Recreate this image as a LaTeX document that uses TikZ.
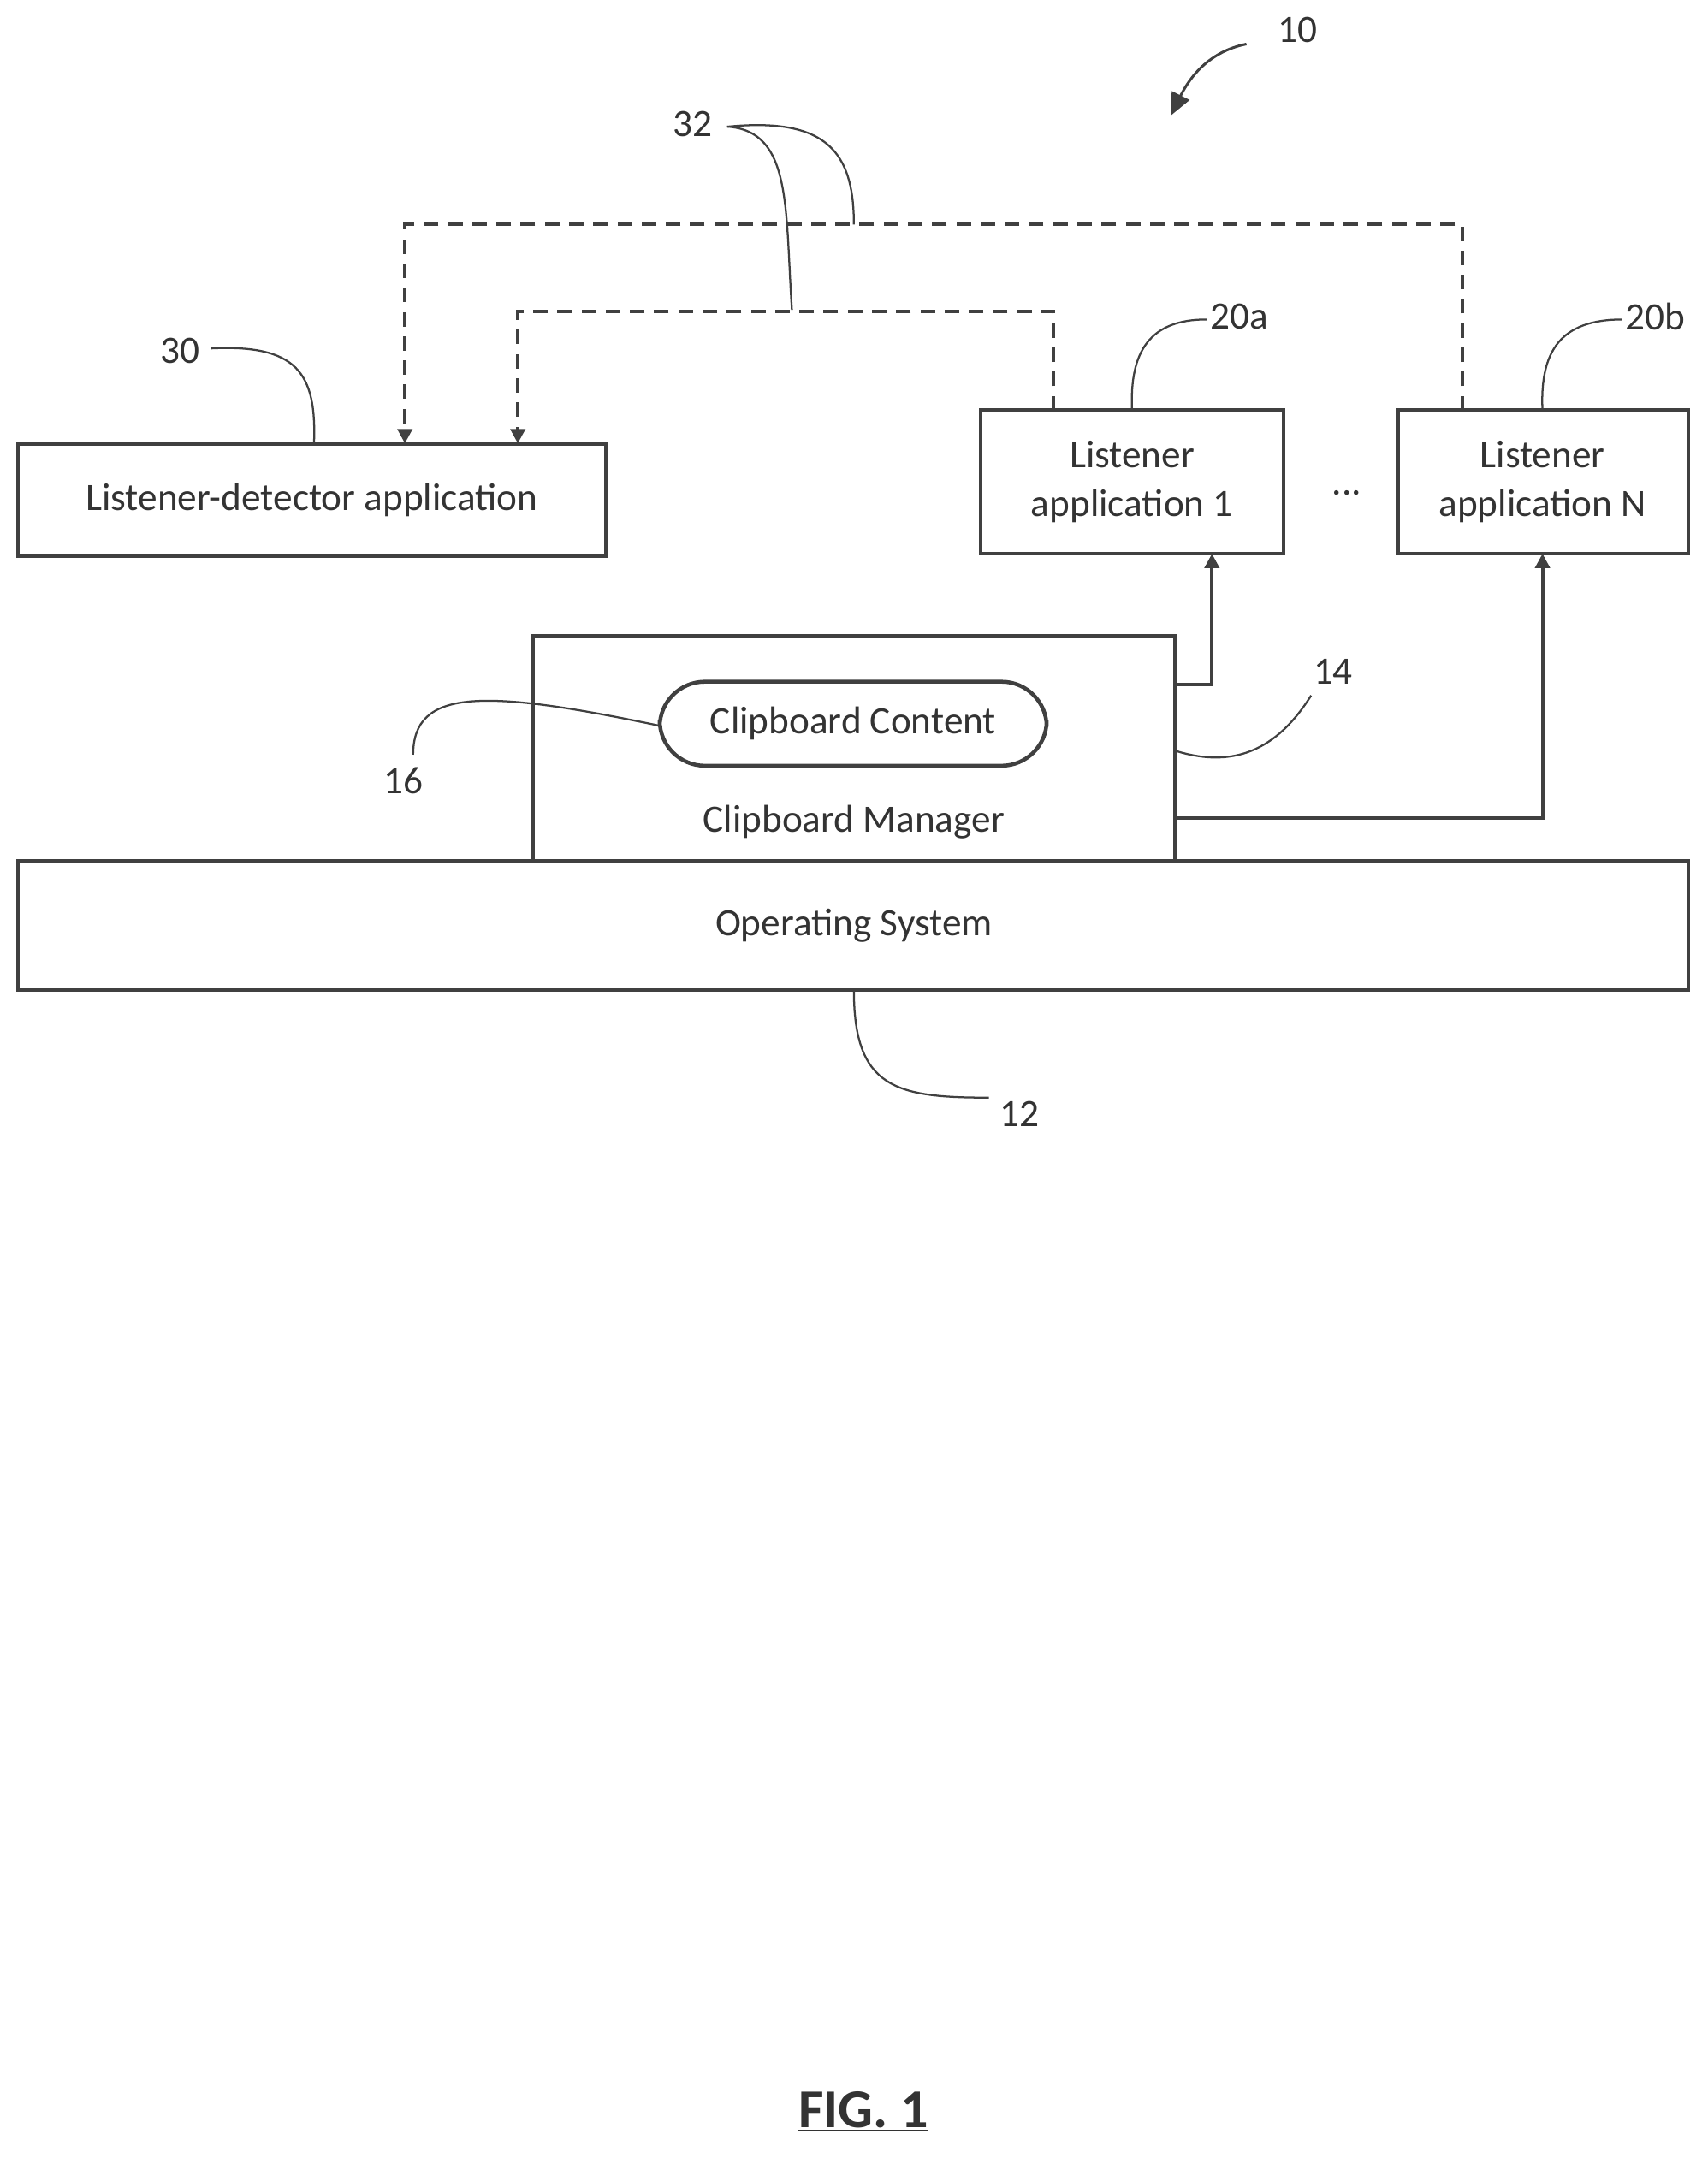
\documentclass[tikz,border=0pt]{standalone}
\usepackage{fontspec}
\setmainfont{Carlito}
\usetikzlibrary{arrows.meta}
\begin{document}
\begin{tikzpicture}[x=0.03cm,y=-0.03cm,
  box/.style={draw=black!75,line width=2.4pt,inner sep=0pt},
  txt/.style={font=\fontsize{24}{30}\selectfont,text=black!80,align=center},
  lbl/.style={font=\fontsize{24}{30}\selectfont,text=black!80},
  conn/.style={draw=black!75,line width=2.2pt},
  lead/.style={draw=black!75,line width=1.2pt},
  tip/.style={-{Triangle[length=9pt,width=9pt]}},
  dsh/.style={conn,dash pattern=on 9pt off 6pt}]
\useasboundingbox (0,0) rectangle (1240,1567);
\draw[box] (13,322) rectangle (440,404);
\node[txt] (ld) at (226.5,363) {Listener-detector application};
\draw[box] (712,298) rectangle (932,402);
\node[txt] (la1) at (822,350) {Listener\\application 1};
\draw[box] (1015,298) rectangle (1226,402);
\node[txt] (lan) at (1120,350) {Listener\\application N};
\node[lbl] (dots) at (978,358) {...};
\draw[box] (387,462) rectangle (853,625);
\node[txt] (cm) at (620,597) {Clipboard Manager};
\draw[box,rounded corners=28pt] (479,495) rectangle (760,556);
\node[txt] (cc) at (619.5,525) {Clipboard Content};
\draw[box] (13,625) rectangle (1226,719);
\node[txt] (os) at (620,672) {Operating System};
% solid arrows
\coordinate (a1) at (853,497); \coordinate (a1t) at (880,402);
\draw[conn,tip] (a1) -| (a1t);
\coordinate (a2) at (853,594); \coordinate (a2t) at (1120,402);
\draw[conn,tip] (a2) -| (a2t);
% dashed
\coordinate (d1) at (765,298); \coordinate (d1t) at (376,322);
\draw[dsh,tip] (d1) -- (765,226) -- (376,226) -- (d1t);
\coordinate (d2) at (1062,298); \coordinate (d2t) at (294,322);
\draw[dsh,tip] (d2) -- (1062,163) -- (294,163) -- (d2t);
% labels
\node[lbl] (n10) at (942,22) {10};
\draw[lead,line width=1.6pt,-{Triangle[length=14pt,width=12pt]}] (905,32) .. controls (875,38) and (862,60) .. (850,84);
\node[lbl] (n32) at (503,90) {32};
\draw[lead] (528,92) .. controls (575,95) and (570,150) .. (575,225);
\draw[lead] (528,92) .. controls (600,85) and (620,110) .. (620,163);
\node[lbl] (n30) at (131,255) {30};
\draw[lead] (153,253) .. controls (215,250) and (230,270) .. (228,322);
\node[lbl] (n20a) at (900,230) {20a};
\draw[lead] (822,298) .. controls (820,255) and (835,232) .. (876,232);
\node[lbl] (n20b) at (1202,230) {20b};
\draw[lead] (1120,298) .. controls (1118,255) and (1133,232) .. (1178,232);
\node[lbl] (n14) at (968,488) {14};
\draw[lead] (853,545) .. controls (900,560) and (930,540) .. (952,505);
\node[lbl] (n16) at (293,567) {16};
\draw[lead] (300,548) .. controls (300,500) and (350,500) .. (479,527);
\node[lbl] (n12) at (740,809) {12};
\draw[lead] (620,719) .. controls (620,790) and (650,797) .. (718,797);
\node[font=\bfseries\fontsize{34}{40}\selectfont,text=black!80] (fig) at (627,1533) {\underline{FIG. 1}};
\end{tikzpicture}
\end{document}
